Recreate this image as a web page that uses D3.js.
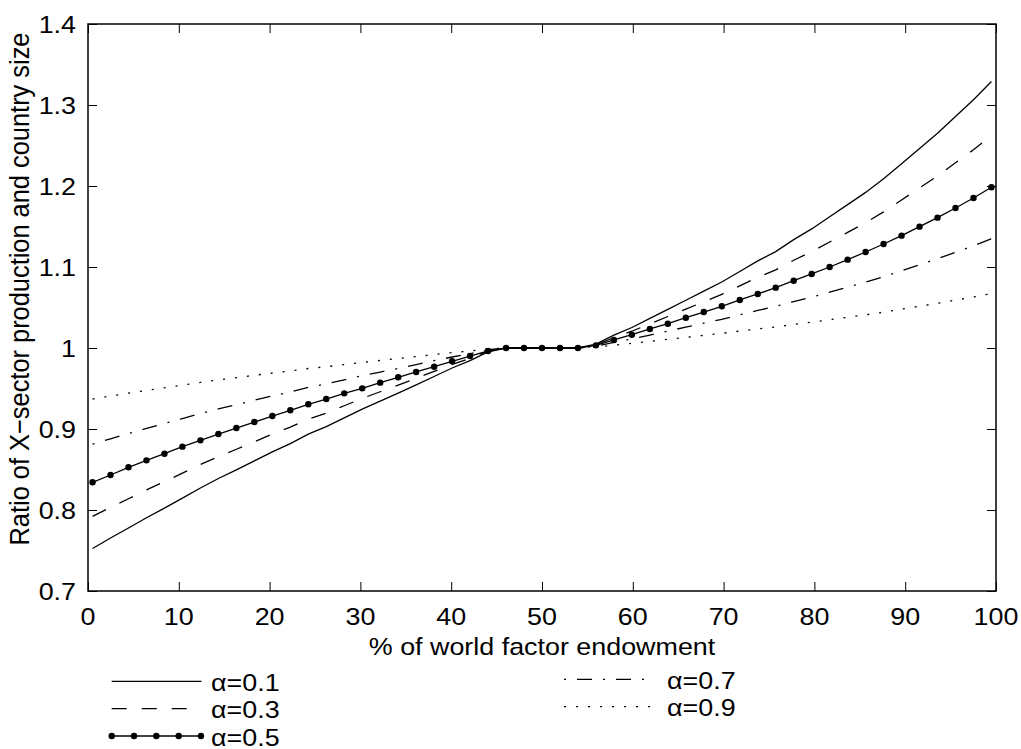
<!DOCTYPE html>
<html>
<head>
<meta charset="utf-8">
<script src="https://cdn.jsdelivr.net/npm/d3@7"></script>
<style>
  html, body { margin: 0; padding: 0; background: #fff; }
  svg { display: block; }
  text { font-family: "Liberation Sans", Arial, Helvetica, sans-serif; font-size: 24px; fill: #000; }
</style>
</head>
<body>
<svg id="chart" width="1021" height="749"></svg>
<script>
// ---------------- data ----------------
const xValues = [0.5,2.48,4.46,6.44,8.42,10.4,12.38,14.36,16.34,18.32,20.3,22.28,24.26,26.24,28.22,30.2,32.18,34.16,36.14,38.12,40.1,42.08,44.06,46.04,48.02,50,51.98,53.96,55.94,57.92,59.9,61.88,63.86,65.84,67.82,69.8,71.78,73.76,75.74,77.72,79.7,81.68,83.66,85.64,87.62,89.6,91.58,93.56,95.54,97.52,99.5];

const alpha01 = [0.7524,0.7654,0.7778,0.7905,0.8024,0.8147,0.8272,0.8389,0.8496,0.8606,0.8718,0.8820,0.8937,0.9029,0.9137,0.9246,0.9344,0.9444,0.9545,0.9648,0.9753,0.9844,0.9953,
  1,1,1,1,1,
  1.0047,1.0158,1.0253,1.0365,1.0477,1.0589,1.0702,1.0815,1.0945,1.1075,1.1190,1.1338,1.1470,1.1620,1.1770,1.1921,1.2089,1.2275,1.2462,1.2651,1.2857,1.3065,1.3291];

const alpha03 = [0.7921,0.8033,0.8139,0.8248,0.8350,0.8455,0.8561,0.8659,0.8750,0.8843,0.8937,0.9023,0.9120,0.9197,0.9287,0.9378,0.9460,0.9542,0.9626,0.9711,0.9797,0.9873,0.9961,
  1,1,1,1,1,
  1.0039,1.0129,1.0207,1.0298,1.0389,1.0480,1.0571,1.0663,1.0768,1.0873,1.0965,1.1083,1.1189,1.1308,1.1428,1.1548,1.1681,1.1828,1.1976,1.2124,1.2286,1.2448,1.2624];

const alpha05 = [0.8342,0.8432,0.8527,0.8613,0.8695,0.8782,0.8860,0.8938,0.9012,0.9086,0.9160,0.9231,0.9305,0.9370,0.9440,0.9502,0.9572,0.9638,0.9704,0.9769,0.9836,0.9901,0.9963,
  1,1,1,1,1,
  1.0033,1.0099,1.0164,1.0235,1.0300,1.0374,1.0444,1.0515,1.0593,1.0667,1.0745,1.0831,1.0914,1.1000,1.1091,1.1185,1.1284,1.1387,1.1498,1.1609,1.1728,1.1852,1.1984];

const alpha07 = [0.8812,0.8879,0.8943,0.9007,0.9068,0.9129,0.9191,0.9249,0.9301,0.9355,0.9408,0.9457,0.9513,0.9557,0.9606,0.9658,0.9703,0.9748,0.9795,0.9843,0.9889,0.9930,0.9979,
  1,1,1,1,1,
  1.0021,1.0070,1.0112,1.0160,1.0209,1.0258,1.0306,1.0354,1.0410,1.0464,1.0512,1.0574,1.0629,1.0690,1.0751,1.0812,1.0880,1.0954,1.1028,1.1102,1.1182,1.1262,1.1348];

const alpha09 = [0.9370,0.9407,0.9442,0.9477,0.9509,0.9542,0.9576,0.9606,0.9634,0.9663,0.9691,0.9717,0.9747,0.9769,0.9795,0.9822,0.9846,0.9870,0.9894,0.9919,0.9943,0.9964,0.9989,
  1,1,1,1,1,
  1.0011,1.0036,1.0057,1.0082,1.0107,1.0132,1.0156,1.0181,1.0209,1.0236,1.0260,1.0291,1.0319,1.0349,1.0380,1.0410,1.0443,1.0480,1.0516,1.0552,1.0591,1.0630,1.0672];

const seriesNames = ["α=0.1", "α=0.3", "α=0.5", "α=0.7", "α=0.9"];
const xTicks = [0,10,20,30,40,50,60,70,80,90,100];
const xTickLabels = ["0","10","20","30","40","50","60","70","80","90","100"];
const yTicks = [0.7,0.8,0.9,1.0,1.1,1.2,1.3,1.4];
const yTickLabels = ["0.7","0.8","0.9","1","1.1","1.2","1.3","1.4"];
const xTitle = "% of world factor endowment";
const yTitle = "Ratio of X\u2212sector production and country size";

// ---------------- layout / styles ----------------
const L = 88, R = 996, T = 24, B = 591;
const SX = 1.12; // horizontal glyph stretch seen in the reference
const styles = [
  { dash: null, offset: 0, markers: false },
  { dash: "15,15", offset: 0, markers: false },
  { dash: null, offset: 0, markers: true },
  { dash: "15,11,2,11", offset: 26, markers: false },
  { dash: "2,10", offset: 0, markers: false }
];
const seriesData = [alpha01, alpha03, alpha05, alpha07, alpha09];

const svg = d3.select("#chart");
svg.append("rect").attr("width", 1021).attr("height", 749).attr("fill", "#fff");

const x = d3.scaleLinear().domain([0, 100]).range([L, R]);
const y = d3.scaleLinear().domain([0.7, 1.4]).range([B, T]);

function stretchedText(g, tx, ty, str, anchor, extra) {
  return g.append("text")
    .attr("transform", `translate(${tx},${ty}) scale(${SX},1)` + (extra || ""))
    .attr("text-anchor", anchor)
    .text(str);
}

// ---------------- axes ----------------
const tickLen = 9;
const axBottom = svg.append("g").attr("transform", `translate(0,${B})`)
  .call(d3.axisBottom(x).tickValues(xTicks).tickSize(-tickLen).tickFormat(""));
const axTop = svg.append("g").attr("transform", `translate(0,${T})`)
  .call(d3.axisTop(x).tickValues(xTicks).tickSize(-tickLen).tickFormat(""));
const axLeft = svg.append("g").attr("transform", `translate(${L},0)`)
  .call(d3.axisLeft(y).tickValues(yTicks).tickSize(-tickLen).tickFormat(""));
const axRight = svg.append("g").attr("transform", `translate(${R},0)`)
  .call(d3.axisRight(y).tickValues(yTicks).tickSize(-tickLen).tickFormat(""));
[axBottom, axTop, axLeft, axRight].forEach(a => {
  a.select(".domain").remove();
  a.selectAll(".tick line").attr("stroke", "#000").attr("stroke-width", 1);
});
svg.append("rect").attr("x", L).attr("y", T).attr("width", R - L).attr("height", B - T)
  .attr("fill", "none").attr("stroke", "#000").attr("stroke-width", 1.5);

// tick labels
const labG = svg.append("g");
xTicks.forEach((v, i) => stretchedText(labG, x(v), 624.5, xTickLabels[i], "middle"));
yTicks.forEach((v, i) => stretchedText(labG, 76, y(v) + 8.6, yTickLabels[i], "end"));

// axis titles
stretchedText(labG, (L + R) / 2, 655, xTitle, "middle");
svg.append("text")
  .attr("transform", `translate(28.5,289) scale(${SX},1) rotate(-90)`)
  .attr("text-anchor", "middle")
  .style("font-size", "25.4px")
  .text(yTitle);

// ---------------- series ----------------
const line = d3.line().x(d => x(d[0])).y(d => y(d[1]));
const plotG = svg.append("g");
seriesData.forEach((vals, k) => {
  const pts = xValues.map((xv, i) => [xv, vals[i]]);
  const st = styles[k];
  const p = plotG.append("path").datum(pts)
    .attr("d", line)
    .attr("fill", "none")
    .attr("stroke", "#000")
    .attr("stroke-width", 1.3);
  if (st.dash) p.attr("stroke-dasharray", st.dash).attr("stroke-dashoffset", st.offset);
  if (st.markers) {
    plotG.selectAll(null).data(pts).enter().append("circle")
      .attr("cx", d => x(d[0])).attr("cy", d => y(d[1]))
      .attr("r", 3.2).attr("fill", "#000");
  }
});

// ---------------- legend ----------------
const legG = svg.append("g");
const legendPos = [
  { x0: 111.7, x1: 201.5, y: 681.3, tx: 211 },
  { x0: 111.7, x1: 201.5, y: 708.7, tx: 211 },
  { x0: 111.7, x1: 201.5, y: 736.0, tx: 211 },
  { x0: 564.0, x1: 655.0, y: 679.3, tx: 667 },
  { x0: 564.0, x1: 654.0, y: 706.7, tx: 667 }
];
legendPos.forEach((lp, k) => {
  const st = styles[k];
  const l = legG.append("line")
    .attr("x1", lp.x0).attr("x2", lp.x1).attr("y1", lp.y).attr("y2", lp.y)
    .attr("stroke", "#000").attr("stroke-width", 1.3);
  if (st.dash) l.attr("stroke-dasharray", st.dash).attr("stroke-dashoffset", st.offset);
  if (st.markers) {
    const mx = d3.scaleLinear().domain([0, 4]).range([lp.x0, lp.x1 - 0.5]);
    legG.selectAll(null).data(d3.range(5)).enter().append("circle")
      .attr("cx", d => mx(d)).attr("cy", lp.y).attr("r", 3.2).attr("fill", "#000");
  }
  stretchedText(legG, lp.tx, lp.y + 9.5, seriesNames[k], "start");
});
</script>
</body>
</html>
